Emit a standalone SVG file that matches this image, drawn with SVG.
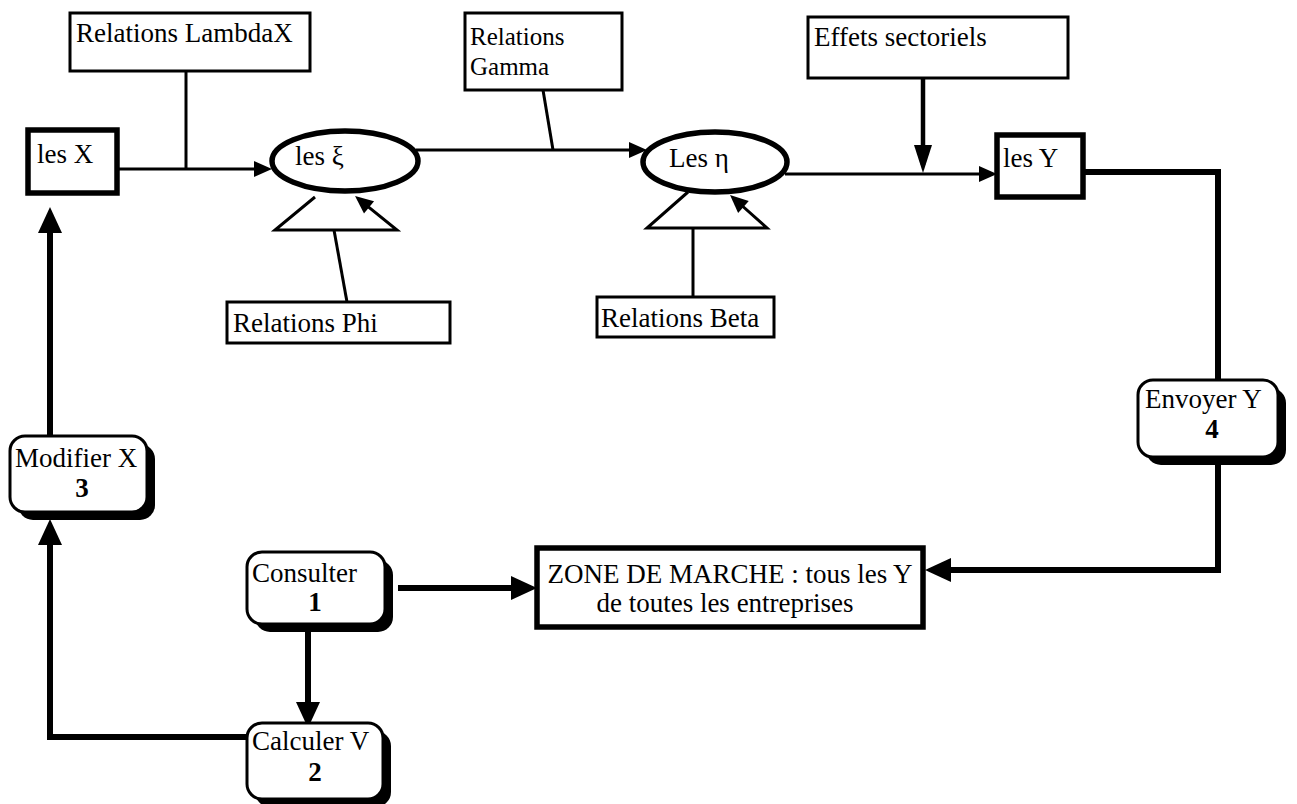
<svg xmlns="http://www.w3.org/2000/svg" width="1297" height="804" viewBox="0 0 1297 804">
<style>
text{font-family:"Liberation Serif","Times New Roman",serif;font-size:27px;fill:#000}
.b{font-weight:bold}
.m{text-anchor:middle}
.s{font-size:25px}
.box{fill:#fff;stroke:#000;stroke-width:3}
.tbox{fill:#fff;stroke:#000;stroke-width:5.5}
.ell{fill:#fff;stroke:#000;stroke-width:5.5}
.rbox{fill:#fff;stroke:#000;stroke-width:3}
.shadow{fill:#000}
.thin{fill:none;stroke:#000;stroke-width:3}
.thick{fill:none;stroke:#000;stroke-width:6}
.med{fill:none;stroke:#000;stroke-width:4.5}
</style>
<defs>
<marker id="aThin" markerUnits="userSpaceOnUse" viewBox="-14 -10 22 20" refX="0" refY="0" markerWidth="22" markerHeight="20" orient="auto"><path d="M-12,-8 L6,0 L-12,8 z" fill="#000"/></marker>
<marker id="aMed" markerUnits="userSpaceOnUse" viewBox="-22 -11 32 22" refX="0" refY="0" markerWidth="32" markerHeight="22" orient="auto"><path d="M-20,-9 L8,0 L-20,9 z" fill="#000"/></marker>
<marker id="aThick" markerUnits="userSpaceOnUse" viewBox="-20 -14 30 28" refX="0" refY="0" markerWidth="30" markerHeight="28" orient="auto"><path d="M-18,-12 L8,0 L-18,12 z" fill="#000"/></marker>
</defs>

<g id="connectors">
<path class="thin" d="M186,71 V169"/>
<path class="thin" d="M117,169 H266" marker-end="url(#aThin)"/>
<path class="thin" d="M543,90 L553,150"/>
<path class="thin" d="M416,150 H641" marker-end="url(#aThin)"/>
<path class="thin" d="M785,174 H991" marker-end="url(#aThin)"/>
<path class="med" d="M923,65 V165" marker-end="url(#aMed)"/>
<path class="thin" stroke-linejoin="miter" d="M315,197 L275,230 L397,230 L359.7,199.8" marker-end="url(#aThin)"/>
<path class="thin" d="M334,230 L347,302"/>
<path class="thin" stroke-linejoin="miter" d="M688,192 L647,228 L767,228 L734.5,199" marker-end="url(#aThin)"/>
<path class="thin" d="M693,228 V297"/>
<path class="thick" d="M1083,172 H1218 V380"/>
<path class="thick" d="M1218,463 V570 H933" marker-end="url(#aThick)"/>
<path class="thick" d="M398,588 H529" marker-end="url(#aThick)"/>
<path class="thick" d="M308,630 V720" marker-end="url(#aThick)"/>
<path class="thick" d="M247,737 H50 V527" marker-end="url(#aThick)"/>
<path class="thick" d="M50,437 V215" marker-end="url(#aThick)"/>
</g>

<g id="relations-lambdax">
<rect class="box" x="70" y="13" width="240" height="58"/>
<text x="76" y="42">Relations LambdaX</text>
</g>
<g id="les-x">
<rect class="tbox" x="28" y="130" width="89" height="63"/>
<text x="37" y="163">les X</text>
</g>
<g id="les-xi">
<ellipse class="ell" cx="345" cy="161" rx="73" ry="30"/>
<text x="295" y="165">les ξ</text>
</g>
<g id="relations-gamma">
<rect class="box" x="465" y="13" width="157" height="77"/>
<text class="s" x="470" y="45">Relations</text>
<text class="s" x="470" y="75">Gamma</text>
</g>
<g id="les-eta">
<ellipse class="ell" cx="715" cy="162" rx="72" ry="30"/>
<text x="669" y="167">Les η</text>
</g>
<g id="effets-sectoriels">
<rect class="box" x="808" y="17" width="260" height="61"/>
<text x="814" y="46">Effets sectoriels</text>
</g>
<g id="les-y">
<rect class="tbox" x="997" y="135" width="86" height="62"/>
<text x="1003" y="167">les Y</text>
</g>
<g id="relations-phi">
<rect class="box" x="227" y="302" width="223" height="41"/>
<text x="233" y="332">Relations Phi</text>
</g>
<g id="relations-beta">
<rect class="box" x="597" y="297" width="177" height="40"/>
<text x="601" y="327">Relations Beta</text>
</g>
<g id="envoyer-y">
<rect class="shadow" x="1146" y="388" width="140" height="77" rx="15"/>
<rect class="rbox" x="1138" y="380" width="140" height="77" rx="15"/>
<text x="1145" y="408">Envoyer Y</text>
<text class="b m" x="1212" y="438">4</text>
</g>
<g id="zone-de-marche">
<rect class="tbox" x="537" y="548" width="386" height="79"/>
<text class="m" x="730" y="583">ZONE DE MARCHE : tous les Y</text>
<text class="m" x="725" y="612">de toutes les entreprises</text>
</g>
<g id="consulter">
<rect class="shadow" x="255" y="560" width="138" height="72" rx="15"/>
<rect class="rbox" x="247" y="552" width="138" height="72" rx="15"/>
<text x="252" y="582">Consulter</text>
<text class="b m" x="315" y="611">1</text>
</g>
<g id="calculer-v">
<rect class="shadow" x="255" y="731" width="136" height="76" rx="15"/>
<rect class="rbox" x="247" y="723" width="136" height="76" rx="15"/>
<text x="252" y="750">Calculer V</text>
<text class="b m" x="315" y="781">2</text>
</g>
<g id="modifier-x">
<rect class="shadow" x="18" y="444" width="137" height="76" rx="15"/>
<rect class="rbox" x="10" y="436" width="137" height="76" rx="15"/>
<text x="15" y="467">Modifier X</text>
<text class="b m" x="82" y="497">3</text>
</g>
</svg>
